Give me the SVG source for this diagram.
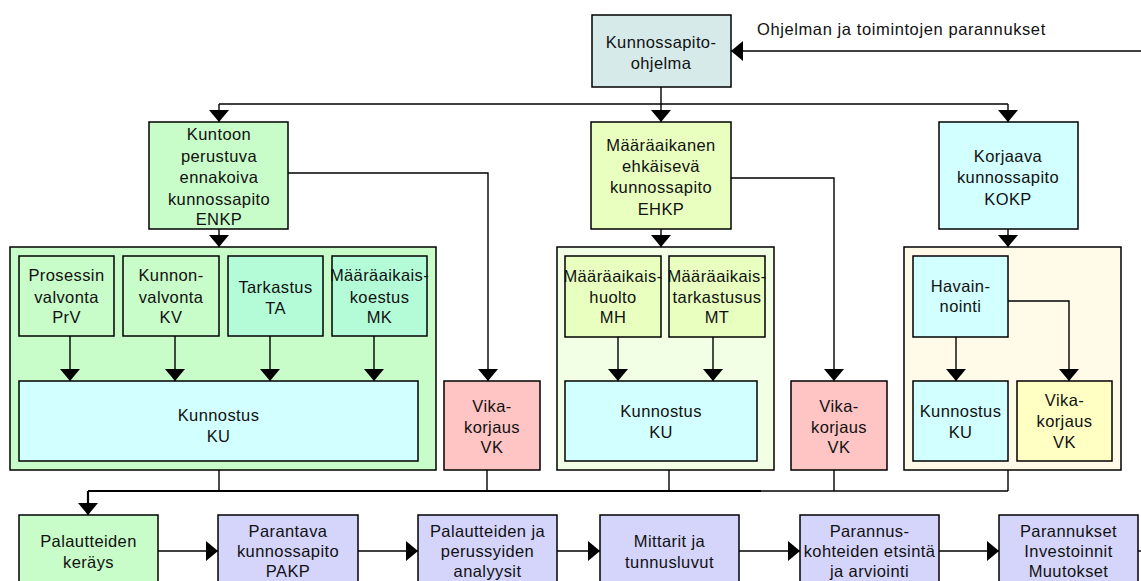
<svg xmlns="http://www.w3.org/2000/svg" width="1141" height="581" viewBox="0 0 1141 581">
<defs>
<marker id="ah" markerWidth="12" markerHeight="20" refX="12" refY="10" orient="auto" markerUnits="userSpaceOnUse"><path d="M0,0 L12,10 L0,20 z" fill="#000"/></marker>
<style>
rect{stroke:#000;stroke-width:1.5}
rect.bg{stroke:none;fill:#fff}
text{font-family:"Liberation Sans",Arial,sans-serif;font-size:16.5px;letter-spacing:0.4px;fill:#111;text-anchor:middle}
.c line,.c polyline{stroke:#000;stroke-width:1.4;fill:none}
.arr{marker-end:url(#ah)}
.prog{fill:#d7eaea}
.green{fill:#c8fcc8}
.mint{fill:#b4fcd8}
.cyan{fill:#d2ffff}
.red{fill:#ffc4c4}
.yg{fill:#e8ffc0}
.paleg{fill:#f3ffe4}
.paley{fill:#fffbe8}
.yel{fill:#ffffc4}
.purp{fill:#d5d5fc}
</style>
</defs>
<rect class="bg" width="1141" height="581"/>

<!-- containers -->
<g id="cont-enkp"><rect class="green" x="10" y="247" width="426" height="223"/></g>
<g id="cont-ehkp"><rect class="paleg" x="557" y="247" width="217" height="223"/></g>
<g id="cont-kokp"><rect class="paley" x="904" y="247" width="217" height="223"/></g>

<g class="c" id="connectors">
<line x1="1141" y1="51" x2="731" y2="51" class="arr"/>
<line x1="661" y1="87" x2="661" y2="104"/>
<line x1="219" y1="104" x2="1008" y2="104"/>
<line x1="219" y1="104" x2="219" y2="122" class="arr"/>
<line x1="661" y1="104" x2="661" y2="122" class="arr"/>
<line x1="1008" y1="104" x2="1008" y2="122" class="arr"/>
<line x1="219" y1="229" x2="219" y2="247" class="arr"/>
<line x1="661" y1="229" x2="661" y2="247" class="arr"/>
<line x1="1008" y1="229" x2="1008" y2="247" class="arr"/>
<polyline points="288,173 488,173 488,381" class="arr"/>
<polyline points="731,178 834,178 834,381" class="arr"/>
<line x1="70" y1="336" x2="70" y2="381" class="arr"/>
<line x1="175" y1="336" x2="175" y2="381" class="arr"/>
<line x1="270" y1="336" x2="270" y2="381" class="arr"/>
<line x1="374" y1="336" x2="374" y2="381" class="arr"/>
<line x1="618" y1="337" x2="618" y2="381" class="arr"/>
<line x1="713" y1="337" x2="713" y2="381" class="arr"/>
<line x1="956" y1="337" x2="956" y2="381" class="arr"/>
<polyline points="1008,301 1069,301 1069,381" class="arr"/>
<line x1="219" y1="470" x2="219" y2="491"/>
<line x1="487" y1="470" x2="487" y2="491"/>
<line x1="669" y1="470" x2="669" y2="491"/>
<line x1="834" y1="470" x2="834" y2="491"/>
<line x1="1008" y1="470" x2="1008" y2="491"/>
<line x1="760" y1="491" x2="1008" y2="491"/>
<line x1="88" y1="491" x2="761" y2="491" style="stroke-width:2.2"/>
<polyline points="88,491 88,515" class="arr" style="stroke-width:2.2"/>
<line x1="158" y1="551" x2="218" y2="551" class="arr"/>
<line x1="358" y1="551" x2="418" y2="551" class="arr"/>
<line x1="557" y1="551" x2="600" y2="551" class="arr"/>
<line x1="739" y1="551" x2="800" y2="551" class="arr"/>
<line x1="939" y1="551" x2="999" y2="551" class="arr"/>
<line x1="1138" y1="551" x2="1141" y2="551"/>
</g>

<text x="757" y="35" style="text-anchor:start;letter-spacing:0.6px">Ohjelman ja toimintojen parannukset</text>

<g id="program"><rect class="prog" x="592" y="15" width="139" height="72"/><text x="661" y="48">Kunnossapito-</text><text x="661" y="69">ohjelma</text></g>

<g id="enkp"><rect class="green" x="149" y="122" width="139" height="107"/>
<text x="219" y="140">Kuntoon</text><text x="219" y="162">perustuva</text><text x="219" y="183">ennakoiva</text><text x="219" y="205">kunnossapito</text><text x="219" y="225">ENKP</text></g>

<g id="ehkp"><rect class="yg" x="591" y="122" width="140" height="107"/>
<text x="661" y="151">Määräaikanen</text><text x="661" y="172">ehkäisevä</text><text x="661" y="193">kunnossapito</text><text x="661" y="215">EHKP</text></g>

<g id="kokp"><rect class="cyan" x="939" y="122" width="139" height="107"/>
<text x="1008" y="162">Korjaava</text><text x="1008" y="183">kunnossapito</text><text x="1008" y="205">KOKP</text></g>

<g id="prv"><rect class="green" x="19" y="256" width="95" height="80"/>
<text x="66.5" y="281">Prosessin</text><text x="66.5" y="303">valvonta</text><text x="66.5" y="323">PrV</text></g>
<g id="kv"><rect class="green" x="123" y="256" width="96" height="80"/>
<text x="171" y="281">Kunnon-</text><text x="171" y="303">valvonta</text><text x="171" y="323">KV</text></g>
<g id="ta"><rect class="mint" x="228" y="256" width="95" height="80"/>
<text x="275.5" y="293">Tarkastus</text><text x="275.5" y="314">TA</text></g>
<g id="mk"><rect class="mint" x="332" y="256" width="95" height="80"/>
<text x="379.5" y="281">Määräaikais-</text><text x="379.5" y="303">koestus</text><text x="379.5" y="323">MK</text></g>
<g id="ku1"><rect class="cyan" x="19" y="381" width="399" height="80"/>
<text x="218.5" y="421">Kunnostus</text><text x="218.5" y="442">KU</text></g>

<g id="vk1"><rect class="red" x="444" y="381" width="96" height="89"/>
<text x="492" y="412">Vika-</text><text x="492" y="433">korjaus</text><text x="492" y="453">VK</text></g>

<g id="mh"><rect class="yg" x="565" y="256" width="96" height="81"/>
<text x="613" y="282">Määräaikais-</text><text x="613" y="303">huolto</text><text x="613" y="323">MH</text></g>
<g id="mt"><rect class="yg" x="669" y="256" width="96" height="81"/>
<text x="717" y="282">Määräaikais-</text><text x="717" y="303">tarkastusus</text><text x="717" y="323">MT</text></g>
<g id="ku2"><rect class="cyan" x="565" y="381" width="192" height="80"/>
<text x="661" y="417">Kunnostus</text><text x="661" y="438">KU</text></g>

<g id="vk2"><rect class="red" x="791" y="381" width="96" height="89"/>
<text x="839" y="412">Vika-</text><text x="839" y="433">korjaus</text><text x="839" y="453">VK</text></g>

<g id="hav"><rect class="cyan" x="913" y="256" width="95" height="81"/>
<text x="960.5" y="292">Havain-</text><text x="960.5" y="312">nointi</text></g>
<g id="ku3"><rect class="cyan" x="913" y="381" width="95" height="80"/>
<text x="960.5" y="417">Kunnostus</text><text x="960.5" y="438">KU</text></g>
<g id="vk3"><rect class="yel" x="1017" y="381" width="95" height="80"/>
<text x="1064.5" y="406">Vika-</text><text x="1064.5" y="427">korjaus</text><text x="1064.5" y="448">VK</text></g>

<g id="b1"><rect class="green" x="19" y="515" width="139" height="90"/>
<text x="88.5" y="547">Palautteiden</text><text x="88.5" y="568">keräys</text></g>
<g id="b2"><rect class="purp" x="218" y="515" width="140" height="90"/>
<text x="288" y="537">Parantava</text><text x="288" y="557">kunnossapito</text><text x="288" y="577">PAKP</text></g>
<g id="b3"><rect class="purp" x="418" y="515" width="139" height="90"/>
<text x="487.5" y="537">Palautteiden ja</text><text x="487.5" y="557">perussyiden</text><text x="487.5" y="577">analyysit</text></g>
<g id="b4"><rect class="purp" x="600" y="515" width="139" height="90"/>
<text x="669.5" y="547">Mittarit ja</text><text x="669.5" y="568">tunnusluvut</text></g>
<g id="b5"><rect class="purp" x="800" y="515" width="139" height="90"/>
<text x="869.5" y="537">Parannus-</text><text x="869.5" y="557">kohteiden etsintä</text><text x="869.5" y="577">ja arviointi</text></g>
<g id="b6"><rect class="purp" x="999" y="515" width="139" height="90"/>
<text x="1068.5" y="537">Parannukset</text><text x="1068.5" y="557">Investoinnit</text><text x="1068.5" y="577">Muutokset</text></g>
</svg>
